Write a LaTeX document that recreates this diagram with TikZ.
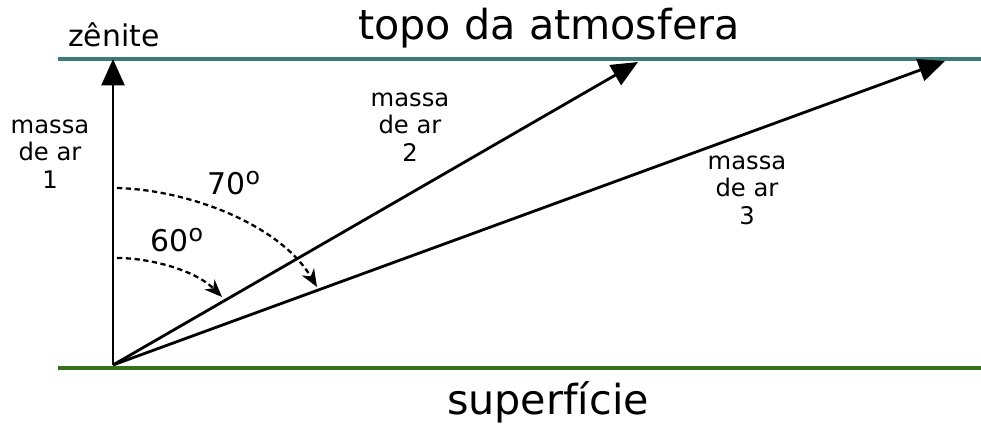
\documentclass[tikz,border=0pt]{standalone}
\usepackage{fontspec}
\setmainfont{DejaVu Sans}
\usetikzlibrary{arrows.meta}
\definecolor{topocor}{RGB}{58,122,120}
\definecolor{supcor}{RGB}{58,112,28}
\newcommand{\grau}{\raisebox{0.6ex}{\fontsize{13.5}{13.5}\selectfont o}}

\begin{document}
\begin{tikzpicture}[
  x=0.02cm, y=-0.02cm,
  camada/.style={line width=2.3pt},
  raio/.style={-{Triangle[length=15pt,width=13pt]}, line width=1.6pt},
  angulo/.style={-{Stealth[length=10pt,width=8pt,inset=3pt]}, line width=1.3pt, dash pattern=on 3pt off 2pt},
  titulo/.style={inner sep=0pt, font=\fontsize{23.5}{28}\selectfont},
  rotulo/.style={inner sep=0pt, font=\fontsize{17}{20}\selectfont},
  massa/.style={inner sep=0pt, align=center, font=\fontsize{13.8}{15.6}\selectfont}
]
\useasboundingbox (0,0) rectangle (981,426);
% camadas
\coordinate (topoA) at (58,59);
\coordinate (topoB) at (981,59);
\coordinate (supA) at (58,368);
\coordinate (supB) at (981,368);
\draw[camada, topocor] (topoA) -- (topoB);
\draw[camada, supcor] (supA) -- (supB);
\node[titulo] (topo) at (549,28) {topo da atmosfera};
\node[titulo] (sup) at (548,402) {superfície};
% raios
\coordinate (obs) at (113,365);
\coordinate (zen) at (113,59);
\coordinate (fim2) at (638,62);
\coordinate (fim3) at (945,61);
\draw[raio] (obs) -- (zen);
\draw[raio] (obs) -- (fim2);
\draw[raio] (obs) -- (fim3);
\node[rotulo] (zenite) at (114,35) {zênite};
\node[massa] (massa1) at (50,154) {massa\\de ar\\1};
\node[massa] (massa2) at (410,127) {massa\\de ar\\2};
\node[massa] (massa3) at (747,190) {massa\\de ar\\3};
% angulos
\coordinate (a60) at (117,258);
\coordinate (b60) at (222,297);
\coordinate (a70) at (117,188);
\coordinate (b70) at (317,287);
\draw[angulo] (a60) .. controls (150,258) and (195,270) .. (b60);
\draw[angulo] (a70) .. controls (190,190) and (280,225) .. (b70);
\node[rotulo] (ang60) at (177,240) {60\grau};
\node[rotulo] (ang70) at (234,183) {70\grau};
\end{tikzpicture}
\end{document}
